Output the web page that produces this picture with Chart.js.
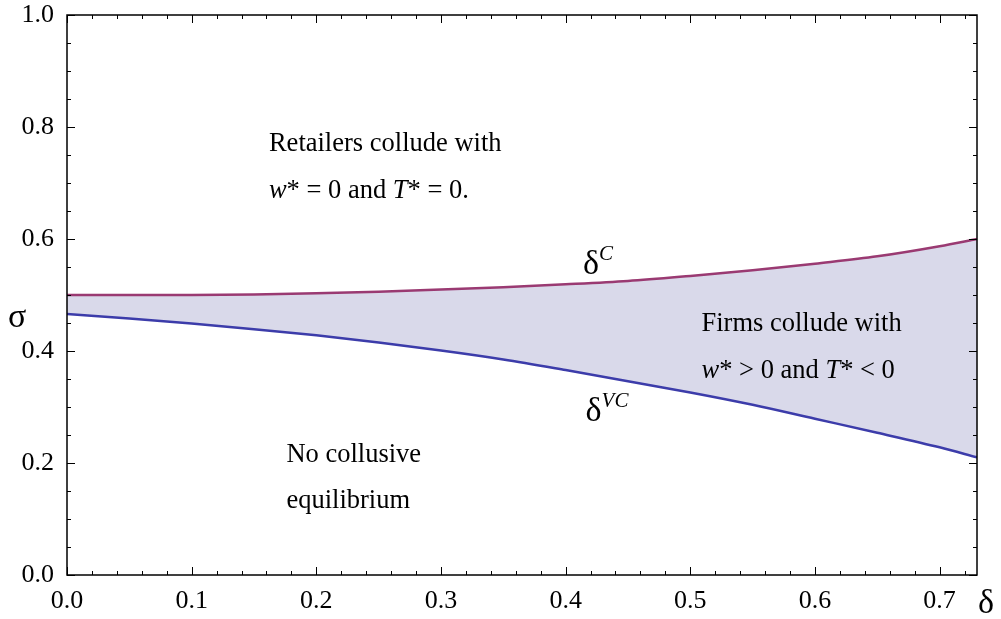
<!DOCTYPE html>
<html>
<head>
<meta charset="utf-8">
<script src="https://cdn.jsdelivr.net/npm/chart.js@4.4.1/dist/chart.umd.min.js"></script>
<style>
  html, body { margin: 0; padding: 0; background: #fff; }
  #wrap { width: 1001px; height: 619px; }
</style>
</head>
<body>
<div id="wrap"><canvas id="regionChart"></canvas></div>
<script>
// ---- data ----
const deltaValues = [0, 0.05, 0.1, 0.15, 0.2, 0.25, 0.3, 0.35, 0.4, 0.45, 0.5, 0.55, 0.6, 0.65, 0.7, 0.73];
const sigmaC      = [0.5, 0.5, 0.5, 0.501, 0.503, 0.506, 0.51, 0.514, 0.519, 0.525, 0.534, 0.544, 0.556, 0.569, 0.587, 0.6];
const sigmaVC     = [0.466, 0.458, 0.449, 0.439, 0.428, 0.415, 0.401, 0.385, 0.366, 0.346, 0.326, 0.304, 0.279, 0.254, 0.228, 0.21];

const xTicks = [0, 0.1, 0.2, 0.3, 0.4, 0.5, 0.6, 0.7];
const yTicks = [0, 0.2, 0.4, 0.6, 0.8, 1.0];

// region labels: position in (delta, sigma), text split into roman / italic parts
const regionLabels = [
    { x: 0.162, y: 0.757, parts: [['Retailers collude with', false]] },
    { x: 0.162, y: 0.674, parts: [['w', true], ['* = 0 and ', false], ['T', true], ['* = 0.', false]] },
    { x: 0.509, y: 0.435, parts: [['Firms collude with', false]] },
    { x: 0.509, y: 0.351, parts: [['w', true], ['* > 0 and ', false], ['T', true], ['* < 0', false]] },
    { x: 0.176, y: 0.202, parts: [['No collusive', false]] },
    { x: 0.176, y: 0.120, parts: [['equilibrium', false]] }
];
const curveLabels = [
    { x: 0.414, y: 0.538, sup: 'C' },
    { x: 0.416, y: 0.275, sup: 'VC' }
];

const SERIF = '"Liberation Serif", "DejaVu Serif", serif';

const framePlugin = {
    id: 'frame',
    afterDraw(chart) {
        const ctx = chart.ctx;
        const a = chart.chartArea;
        const xs = chart.scales.x, ys = chart.scales.y;
        ctx.save();
        ctx.strokeStyle = '#000';
        ctx.lineWidth = 1.5;
        ctx.strokeRect(a.left, a.top, a.right - a.left, a.bottom - a.top);

        ctx.lineWidth = 1;
        ctx.beginPath();
        // x ticks, bottom and top (inward)
        for (let i = 0; i <= 36; i++) {
            const v = i * 0.02;
            if (v > 0.73) break;
            const px = Math.round(xs.getPixelForValue(v)) + 0.5;
            const len = (i % 5 === 0) ? 8 : 4;
            ctx.moveTo(px, a.bottom); ctx.lineTo(px, a.bottom - len);
            ctx.moveTo(px, a.top); ctx.lineTo(px, a.top + len);
        }
        // y ticks, left and right (inward)
        for (let i = 0; i <= 20; i++) {
            const v = i * 0.05;
            const py = Math.round(ys.getPixelForValue(v)) + 0.5;
            const len = (i % 4 === 0) ? 8 : 4;
            ctx.moveTo(a.left, py); ctx.lineTo(a.left + len, py);
            ctx.moveTo(a.right, py); ctx.lineTo(a.right - len, py);
        }
        ctx.stroke();

        // region text
        ctx.fillStyle = '#000';
        ctx.textBaseline = 'alphabetic';
        ctx.textAlign = 'left';
        regionLabels.forEach(lab => {
            let px = xs.getPixelForValue(lab.x);
            const py = ys.getPixelForValue(lab.y);
            lab.parts.forEach(([txt, it]) => {
                ctx.font = (it ? 'italic ' : '') + '26.5px ' + SERIF;
                ctx.fillText(txt, px, py);
                px += ctx.measureText(txt).width;
            });
        });

        // curve names
        curveLabels.forEach(lab => {
            const px = xs.getPixelForValue(lab.x);
            const py = ys.getPixelForValue(lab.y);
            ctx.font = '34px ' + SERIF;
            ctx.fillText('\u03B4', px, py);
            const w = ctx.measureText('\u03B4').width;
            ctx.font = 'italic 21px ' + SERIF;
            ctx.fillText(lab.sup, px + w, py - 14);
        });

        // axis names
        ctx.font = '34px ' + SERIF;
        ctx.fillText('\u03C3', 8, 327);
        ctx.fillText('\u03B4', 978, 613);
        ctx.restore();
    }
};

const ctx = document.getElementById('regionChart').getContext('2d');
new Chart(ctx, {
    type: 'line',
    data: {
        datasets: [
            {
                label: 'deltaC',
                data: deltaValues.map((d, i) => ({ x: d, y: sigmaC[i] })),
                borderColor: '#9a3a72',
                borderWidth: 2.5,
                pointRadius: 0,
                cubicInterpolationMode: 'monotone',
                fill: '+1',
                backgroundColor: '#d9d9ea'
            },
            {
                label: 'deltaVC',
                data: deltaValues.map((d, i) => ({ x: d, y: sigmaVC[i] })),
                borderColor: '#3c3caa',
                borderWidth: 2.5,
                pointRadius: 0,
                cubicInterpolationMode: 'monotone',
                fill: false
            }
        ]
    },
    options: {
        responsive: true,
        maintainAspectRatio: false,
        animation: false,
        layout: { padding: { top: 15, right: 24, left: 0, bottom: 0 } },
        plugins: {
            legend: { display: false },
            tooltip: { enabled: false },
            filler: { drawTime: 'beforeDatasetsDraw' }
        },
        scales: {
            x: {
                type: 'linear',
                min: 0,
                max: 0.73,
                grid: { display: false },
                border: { display: false },
                afterBuildTicks: scale => { scale.ticks = xTicks.map(v => ({ value: v })); },
                afterFit: scale => { scale.height = 44; scale.paddingLeft = 0; scale.paddingRight = 0; },
                ticks: {
                    color: '#000',
                    padding: 3,
                    maxRotation: 0,
                    font: { family: SERIF, size: 26 },
                    callback: v => Number(v).toFixed(1)
                }
            },
            y: {
                type: 'linear',
                min: 0,
                max: 1,
                grid: { display: false },
                border: { display: false },
                afterBuildTicks: scale => { scale.ticks = yTicks.map(v => ({ value: v })); },
                afterFit: scale => { scale.width = 67; scale.paddingTop = 0; scale.paddingBottom = 0; },
                ticks: {
                    color: '#000',
                    padding: 5,
                    font: { family: SERIF, size: 26 },
                    callback: v => Number(v).toFixed(1)
                }
            }
        }
    },
    plugins: [framePlugin]
});
</script>
</body>
</html>
